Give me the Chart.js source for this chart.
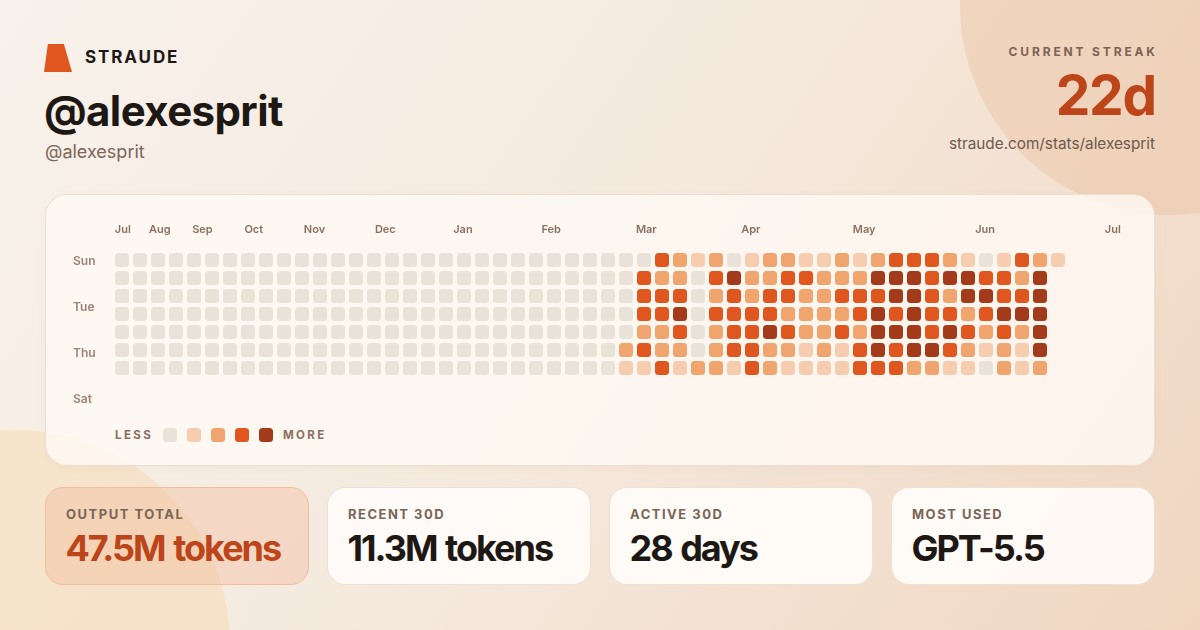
<!DOCTYPE html>
<html>
<head>
<meta charset="utf-8">
<script src="https://cdn.jsdelivr.net/npm/chart.js@4.4.1/dist/chart.umd.min.js"></script>
<style>
  * { margin: 0; padding: 0; box-sizing: border-box; }
  body { width: 1200px; height: 630px; overflow: hidden; font-family: Inter, 'Noto Sans', sans-serif; }
  .page {
    position: relative; width: 1200px; height: 630px; overflow: hidden;
    background: linear-gradient(125deg, #f8f2ec 0%, #f5e9dd 50%, #f0d6c1 100%);
  }
  .blob { position: absolute; border-radius: 50%; }
  .blob-tr { left: 960px; top: -205px; width: 420px; height: 420px; background: rgba(236, 190, 156, 0.4); }
  .blob-bl { left: -200px; top: 430px; width: 430px; height: 430px; background: rgba(246, 214, 174, 0.45); }
  .abs { position: absolute; line-height: 1; white-space: nowrap; }
  .logo {
    left: 44px; top: 44px; width: 28px; height: 28px; background: #e0561f;
    clip-path: polygon(14% 0, 71% 0, 100% 100%, 0 100%);
  }
  .brand { left: 85px; top: 48.6px; font-size: 17px; font-weight: 700; letter-spacing: 1.9px; color: #1e1814; }
  .handle { left: 44px; top: 90px; font-size: 42px; font-weight: 700; letter-spacing: -0.6px; color: #1e1814; }
  .sub { left: 45px; top: 142.8px; font-size: 18px; font-weight: 400; color: #7b6657; }
  .streak-label { right: 45px; top: 46.3px; font-size: 12px; font-weight: 700; letter-spacing: 2.85px; color: #7d6354; margin-right: -2.85px; }
  .streak { right: 44px; top: 67.5px; font-size: 55px; font-weight: 700; letter-spacing: -1.2px; color: #bc4519; }
  .url { right: 45px; top: 135.5px; font-size: 15.3px; font-weight: 400; color: #6d5a4d; }
  .panel {
    left: 45px; top: 194px; width: 1110px; height: 272px; border-radius: 22px;
    background: rgba(255, 250, 245, 0.8); border: 1px solid rgba(234, 220, 206, 0.9);
    box-shadow: 0 2px 8px rgba(150, 100, 60, 0.04);
  }
  .legend-text { top: 430px; font-size: 11.5px; font-weight: 700; letter-spacing: 2.4px; color: #8a6f5f; }
  .swatch { top: 428px; width: 14px; height: 14px; border-radius: 3.5px; }
  .card {
    top: 487px; width: 264px; height: 98px; border-radius: 18px;
    background: rgba(254, 251, 248, 0.95); border: 1px solid rgba(236, 222, 208, 0.9);
  }
  .card.hot { background: rgba(240, 180, 145, 0.35); border-color: #efbea0; }
  .card-label { position: absolute; left: 20px; top: 19.5px; line-height: 1; font-size: 13px; font-weight: 700; letter-spacing: 1.5px; color: #7a6556; }
  .card-value { position: absolute; left: 19.5px; top: 42px; line-height: 1; font-size: 36px; font-weight: 700; letter-spacing: -2px; word-spacing: 2px; color: #1e1814; }
  .card.hot .card-value { color: #bc4519; }
  #heatmap { position: absolute; left: 0; top: 0; }
</style>
</head>
<body>
<div class="page">
  <div class="blob blob-tr"></div>
  <div class="blob blob-bl"></div>

  <div class="abs logo"></div>
  <div class="abs brand">STRAUDE</div>
  <div class="abs handle">@alexesprit</div>
  <div class="abs sub">@alexesprit</div>

  <div class="abs streak-label">CURRENT STREAK</div>
  <div class="abs streak">22d</div>
  <div class="abs url">straude.com/stats/alexesprit</div>

  <div class="abs panel"></div>
  <div class="abs legend-text" style="left:115px">LESS</div>
  <div id="swatches"></div>
  <div class="abs legend-text" style="left:283px">MORE</div>

  <div class="abs card hot" style="left:45px">
    <div class="card-label">OUTPUT TOTAL</div><div class="card-value">47.5M tokens</div>
  </div>
  <div class="abs card" style="left:327px">
    <div class="card-label">RECENT 30D</div><div class="card-value">11.3M tokens</div>
  </div>
  <div class="abs card" style="left:609px">
    <div class="card-label">ACTIVE 30D</div><div class="card-value">28 days</div>
  </div>
  <div class="abs card" style="left:891px">
    <div class="card-label">MOST USED</div><div class="card-value">GPT-5.5</div>
  </div>

  <canvas id="heatmap" width="1200" height="630"></canvas>
</div>

<script>
// activity level (0-4) for each week column, one array per weekday
const sunLevels = [0,0,0,0,0,0,0,0,0,0,0,0,0,0,0,0,0,0,0,0,0,0,0,0,0,0,0,0,0,0,3,2,1,2,0,1,2,2,1,1,2,1,2,3,3,3,2,1,0,1,3,2,1];
const monLevels = [0,0,0,0,0,0,0,0,0,0,0,0,0,0,0,0,0,0,0,0,0,0,0,0,0,0,0,0,0,3,2,2,0,3,4,2,2,3,3,2,2,2,4,4,4,3,4,4,3,3,2,4];
const tueLevels = [0,0,0,0,0,0,0,0,0,0,0,0,0,0,0,0,0,0,0,0,0,0,0,0,0,0,0,0,0,3,3,3,0,2,3,2,3,3,2,2,3,3,3,4,4,3,2,4,4,3,3,4];
const wedLevels = [0,0,0,0,0,0,0,0,0,0,0,0,0,0,0,0,0,0,0,0,0,0,0,0,0,0,0,0,0,3,3,4,0,3,3,3,3,2,2,2,2,3,4,3,4,3,3,2,3,4,4,4];
const thuLevels = [0,0,0,0,0,0,0,0,0,0,0,0,0,0,0,0,0,0,0,0,0,0,0,0,0,0,0,0,0,2,2,3,0,2,3,3,4,3,2,2,3,2,4,4,4,3,4,3,2,3,2,4];
const friLevels = [0,0,0,0,0,0,0,0,0,0,0,0,0,0,0,0,0,0,0,0,0,0,0,0,0,0,0,0,2,3,2,2,0,2,3,3,2,2,1,2,1,3,4,3,4,4,3,2,1,2,1,4];
const satLevels = [0,0,0,0,0,0,0,0,0,0,0,0,0,0,0,0,0,0,0,0,0,0,0,0,0,0,0,0,1,1,3,1,2,2,1,3,2,1,1,1,1,3,3,3,2,2,1,1,0,2,1,2];

const weekdayLevels = [sunLevels, monLevels, tueLevels, wedLevels, thuLevels, friLevels, satLevels];

const dayLabels = ['Sun', 'Tue', 'Thu', 'Sat'];
const dayLabelRows = [0.1, 2.65, 5.2, 7.75];

const monthLabels = ['Jul', 'Aug', 'Sep', 'Oct', 'Nov', 'Dec', 'Jan', 'Feb', 'Mar', 'Apr', 'May', 'Jun', 'Jul'];
const monthLabelCols = [-0.4, 1.5, 3.9, 6.8, 10.1, 14.05, 18.4, 23.3, 28.55, 34.4, 40.6, 47.4, 54.6];

const levelColors = ['#e8e2d9', '#f7cdb0', '#f0a46e', '#e0561f', '#a33b1b'];

// legend swatches
const sw = document.getElementById('swatches');
levelColors.forEach((c, i) => {
    const d = document.createElement('div');
    d.className = 'abs swatch';
    d.style.left = (163 + i * 24) + 'px';
    d.style.background = c;
    sw.appendChild(d);
});

const half = 7 / 18;

const datasets = weekdayLevels.map((levels, day) => ({
    data: levels.map((level, week) => ({ x: week, y: [day - half, day + half], level: level })),
    backgroundColor: ctx => levelColors[ctx.raw.level],
    borderRadius: 3.5,
    borderSkipped: false,
    borderWidth: 0,
    grouped: false,
    barPercentage: 0.78,
    categoryPercentage: 1,
    maxBarThickness: 14,
}));

Chart.defaults.font.family = 'Inter';

new Chart(document.getElementById('heatmap').getContext('2d'), {
    type: 'bar',
    data: { datasets: datasets },
    options: {
        responsive: false,
        animation: false,
        events: [],
        layout: { autoPadding: false, padding: { left: 73, top: 215, right: 70, bottom: 226 } },
        plugins: { legend: { display: false }, tooltip: { enabled: false } },
        scales: {
            x: {
                type: 'linear',
                position: 'top',
                offset: false,
                min: -0.5,
                max: 56,
                grid: { display: false, drawTicks: false },
                border: { display: false },
                afterBuildTicks: axis => { axis.ticks = monthLabelCols.map(v => ({ value: v })); },
                afterFit: axis => { axis.height = 36; },
                ticks: {
                    autoSkip: false,
                    maxRotation: 0,
                    minRotation: 0,
                    align: 'start',
                    padding: 15,
                    color: '#8b7060',
                    font: { size: 11, weight: '600' },
                    callback: (v, i) => monthLabels[i],
                },
            },
            y: {
                type: 'linear',
                reverse: true,
                min: -0.5,
                max: 8,
                grid: { display: false, drawTicks: false },
                border: { display: false },
                afterBuildTicks: axis => { axis.ticks = dayLabelRows.map(v => ({ value: v })); },
                afterFit: axis => { axis.width = 40; },
                ticks: {
                    crossAlign: 'far',
                    color: '#9c8373',
                    font: { size: 12, weight: '600' },
                    callback: (v, i) => dayLabels[i],
                },
            },
        },
    },
});
</script>
</body>
</html>
